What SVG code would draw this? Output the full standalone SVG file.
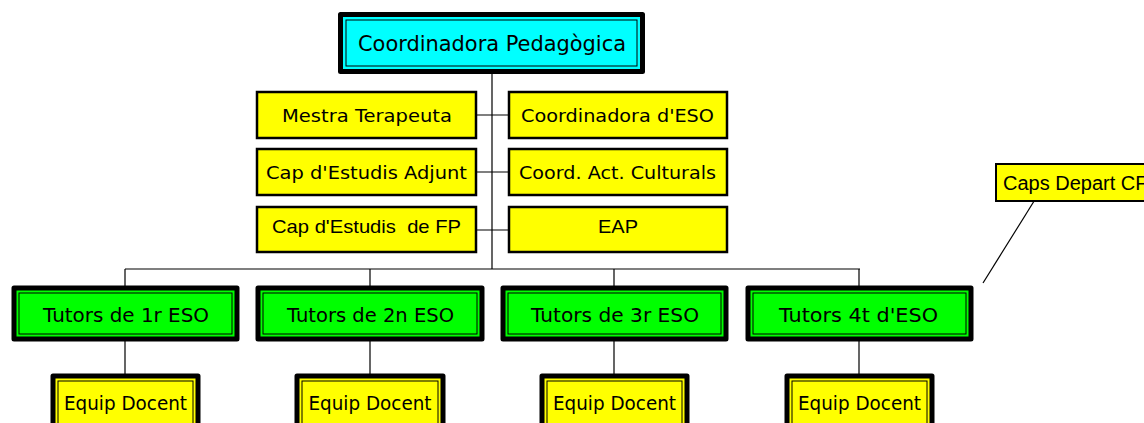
<svg xmlns="http://www.w3.org/2000/svg" width="1144" height="423" viewBox="0 0 1144 423">
<style>
.t{font-family:"DejaVu Sans","Liberation Sans",sans-serif;fill:#000;text-anchor:middle;dominant-baseline:central}
.a{font-family:"Liberation Sans",Arial,sans-serif;fill:#000;text-anchor:middle;dominant-baseline:central}
.outer{stroke:#000;stroke-width:5;stroke-linejoin:round}
.inner{fill:none;stroke:#000;stroke-width:1}
.mid{fill:#ffff00;stroke:#000;stroke-width:2.5}
.con{stroke:#000;stroke-width:1.2;fill:none}
</style>
<rect width="1144" height="423" fill="#fff"/>
<g id="connectors">
<path class="con" d="M492 74V269M125 269H860M125 269V288M370 269V288M614 269V288M859 269V288"/>
<path class="con" d="M477 115H509M477 172H509M477 230H509"/>
<path class="con" d="M125 341V376M370 341V376M614 341V376M859 341V376"/>
<path class="con" d="M1036 198L983 283"/>
</g>
<g id="coord-pedagogica">
<rect class="outer" x="340.5" y="14.5" width="302" height="57" fill="#00ffff"/>
<rect class="inner" x="346" y="20" width="291" height="46"/>
<text class="t" x="492" y="44" font-size="21" textLength="268" lengthAdjust="spacingAndGlyphs">Coordinadora Pedagògica</text>
</g>
<g id="mestra-terapeuta">
<rect class="mid" x="257" y="92" width="219" height="46"/>
<text class="t" x="367" y="115" font-size="18" textLength="170" lengthAdjust="spacingAndGlyphs">Mestra Terapeuta</text>
</g>
<g id="coord-eso">
<rect class="mid" x="509" y="92" width="218" height="46"/>
<text class="t" x="617.5" y="115" font-size="18" textLength="193" lengthAdjust="spacingAndGlyphs">Coordinadora d'ESO</text>
</g>
<g id="cap-estudis-adjunt">
<rect class="mid" x="257" y="149" width="219" height="46"/>
<text class="t" x="366.5" y="172" font-size="18" textLength="201" lengthAdjust="spacingAndGlyphs">Cap d'Estudis Adjunt</text>
</g>
<g id="coord-act-culturals">
<rect class="mid" x="509" y="149" width="218" height="46"/>
<text class="t" x="617.5" y="172" font-size="18" textLength="197" lengthAdjust="spacingAndGlyphs">Coord. Act. Culturals</text>
</g>
<g id="cap-estudis-fp">
<rect class="mid" x="257" y="207" width="219" height="45"/>
<text class="a" x="366.5" y="226" font-size="19" textLength="189" lengthAdjust="spacingAndGlyphs" xml:space="preserve">Cap d'Estudis  de FP</text>
</g>
<g id="eap">
<rect class="mid" x="509" y="207" width="218" height="45"/>
<text class="a" x="618" y="226" font-size="19" textLength="40" lengthAdjust="spacingAndGlyphs">EAP</text>
</g>
<g id="tutors-1r">
<rect class="outer" x="14" y="288" width="223" height="51" fill="#00ff00"/>
<rect class="inner" x="19" y="293" width="213" height="41"/>
<text class="t" x="126" y="315" font-size="19" textLength="166" lengthAdjust="spacingAndGlyphs">Tutors de 1r ESO</text>
</g>
<g id="tutors-2n">
<rect class="outer" x="258" y="288" width="224" height="51" fill="#00ff00"/>
<rect class="inner" x="263" y="293" width="214" height="41"/>
<text class="t" x="370.5" y="315" font-size="19" textLength="167" lengthAdjust="spacingAndGlyphs">Tutors de 2n ESO</text>
</g>
<g id="tutors-3r">
<rect class="outer" x="503" y="288" width="223" height="51" fill="#00ff00"/>
<rect class="inner" x="508" y="293" width="213" height="41"/>
<text class="t" x="615" y="315" font-size="19" textLength="168" lengthAdjust="spacingAndGlyphs">Tutors de 3r ESO</text>
</g>
<g id="tutors-4t">
<rect class="outer" x="748" y="288" width="223" height="51" fill="#00ff00"/>
<rect class="inner" x="753" y="293" width="213" height="41"/>
<text class="t" x="858.5" y="315" font-size="19" textLength="159" lengthAdjust="spacingAndGlyphs">Tutors 4t d'ESO</text>
</g>
<g id="equip-1">
<rect class="outer" x="53" y="376" width="145" height="60" fill="#ffff00"/>
<rect class="inner" x="58" y="381" width="135" height="50"/>
<text class="t" x="125.5" y="403" font-size="19" textLength="123" lengthAdjust="spacingAndGlyphs">Equip Docent</text>
</g>
<g id="equip-2">
<rect class="outer" x="297" y="376" width="146" height="60" fill="#ffff00"/>
<rect class="inner" x="302" y="381" width="136" height="50"/>
<text class="t" x="370" y="403" font-size="19" textLength="123" lengthAdjust="spacingAndGlyphs">Equip Docent</text>
</g>
<g id="equip-3">
<rect class="outer" x="542" y="376" width="145" height="60" fill="#ffff00"/>
<rect class="inner" x="547" y="381" width="135" height="50"/>
<text class="t" x="614.5" y="403" font-size="19" textLength="123" lengthAdjust="spacingAndGlyphs">Equip Docent</text>
</g>
<g id="equip-4">
<rect class="outer" x="787" y="376" width="145" height="60" fill="#ffff00"/>
<rect class="inner" x="792" y="381" width="135" height="50"/>
<text class="t" x="859.5" y="403" font-size="19" textLength="123" lengthAdjust="spacingAndGlyphs">Equip Docent</text>
</g>
<g id="caps-depart-cf">
<rect x="996" y="164" width="160" height="37" fill="#ffff00" stroke="#000" stroke-width="2"/>
<text class="a" x="1003" y="183" font-size="20" style="text-anchor:start">Caps Depart CF</text>
</g>
</svg>
